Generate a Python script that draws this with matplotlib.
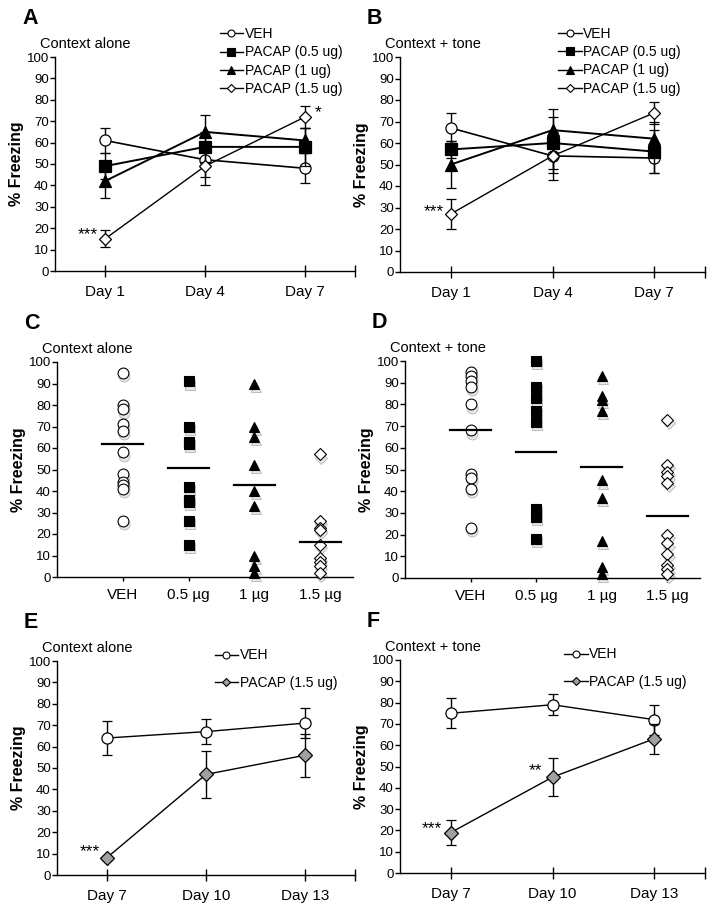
import numpy as np
import matplotlib
matplotlib.use("Agg")
import matplotlib.pyplot as plt

plt.rcParams["font.family"] = ["Liberation Sans", "DejaVu Sans"]

W, H = 714, 909

# ---- data: panels A/B (means, SEM) ----
days_ab = ["Day 1", "Day 4", "Day 7"]
groups = ["VEH", "PACAP (0.5 ug)", "PACAP (1 ug)", "PACAP (1.5 ug)"]
a_mean = [[61, 52, 48], [49, 58, 58], [42, 65, 61], [15, 49, 72]]
a_err = [[6, 8, 7], [6, 7, 9], [8, 8, 6], [4, 9, 5]]
b_mean = [[67, 54, 53], [57, 60, 56], [50, 66, 62], [27, 54, 74]]
b_err = [[7, 8, 7], [4, 12, 10], [11, 10, 8], [7, 11, 5]]

# ---- data: panels C/D (individual animals) ----
doses = ["VEH", "0.5 µg", "1 µg", "1.5 µg"]
c_pts = [
    [95, 80, 78, 71, 68, 58, 48, 44, 43, 41, 26],
    [91, 70, 63, 62, 42, 36, 35, 26, 15],
    [90, 70, 65, 52, 40, 33, 10, 5, 2],
    [57, 26, 23, 22, 15, 9, 7, 5, 2],
]
c_means = [62, 50.5, 43, 16.5]
d_pts = [
    [95, 93, 91, 88, 80, 68, 48, 46, 41, 23],
    [100, 88, 83, 77, 72, 32, 28, 18],
    [93, 84, 82, 77, 45, 37, 17, 5, 2],
    [73, 52, 49, 47, 44, 20, 16, 11, 6, 4, 2],
]
d_means = [68, 58, 51, 28.5]

# ---- data: panels E/F ----
days_ef = ["Day 7", "Day 10", "Day 13"]
groups_ef = ["VEH", "PACAP (1.5 ug)"]
e_mean = [[64, 67, 71], [8, 47, 56]]
e_err = [[8, 6, 7], [1, 11, 10]]
f_mean = [[75, 79, 72], [19, 45, 63]]
f_err = [[7, 5, 7], [6, 9, 7]]

fig = plt.figure(figsize=(W / 100, H / 100), dpi=100)


def box(left, right, top, bottom):
    return [left / W, 1 - bottom / H, (right - left) / W, (bottom - top) / H]


def style_axes(ax, px_w):
    ax.spines["top"].set_visible(False)
    ax.spines["right"].set_visible(False)
    ax.spines["left"].set_linewidth(1.0)
    ax.spines["bottom"].set_linewidth(1.0)
    ax.set_ylim(0, 100)
    ax.set_yticks(range(0, 101, 10))
    ax.tick_params(axis="y", labelsize=9.5, length=3.5, width=1.0, pad=1)
    ax.set_ylabel("% Freezing", fontsize=11.5, fontweight="bold")
    ax.yaxis.set_label_coords(-31 / px_w, 0.5)


def panel_text(ax, letter, title, px_w, px_h):
    # letter and title placed by pixel offsets from the axes' top-left corner
    ax.text(-33 / px_w, 1 + 33 / px_h, letter, transform=ax.transAxes,
            fontsize=15.5, fontweight="bold", va="baseline", ha="left")
    ax.text(-15 / px_w, 1 + 9 / px_h, title, transform=ax.transAxes,
            fontsize=10.5, va="baseline", ha="left")


markers4 = [
    dict(marker="o", mfc="white", ms=8),
    dict(marker="s", mfc="black", ms=8),
    dict(marker="^", mfc="black", ms=8),
    dict(marker="D", mfc="white", ms=6.5),
]
leg_ms = [5, 5.5, 5.5, 4.5]


def line_panel(rect, mean, err, days, mk, legms, letter, title, lw_list):
    ax = fig.add_axes(rect)
    x = np.arange(len(days))
    handles = []
    for i, (m, e) in enumerate(zip(mean, err)):
        ax.errorbar(x, m, yerr=e, color="black", lw=lw_list[i], ecolor="black",
                    elinewidth=1.0, capsize=3.5, capthick=1.0, mec="black",
                    mew=0.9, zorder=3 + i, **mk[i])
        h, = ax.plot([], [], color="black", lw=1.0, marker=mk[i]["marker"],
                     mfc=mk[i]["mfc"], mec="black", mew=0.8, ms=legms[i])
        handles.append(h)
    ax.set_xlim(-0.5, 2.5)
    ax.set_xticks(x)
    ax.set_xticks([2.5], minor=True)
    ax.set_xticklabels(days, fontsize=11)
    ax.tick_params(axis="x", which="both", direction="inout", length=8,
                   width=1.0, pad=6)
    style_axes(ax, rect[2] * W)
    panel_text(ax, letter, title, rect[2] * W, rect[3] * H)
    return ax, handles


leg_kw = dict(frameon=False, fontsize=10, handlelength=1.7, handletextpad=0.1,
              borderaxespad=0, loc="upper left")

# ---- A ----
axA, hA = line_panel(box(55, 355, 57, 271), a_mean, a_err, days_ab,
                     markers4, leg_ms, "A", "Context alone", [1.2, 1.4, 1.4, 1.0])
axA.legend(hA, groups, bbox_to_anchor=(0.53, 1.165), labelspacing=0.3, **leg_kw)
axA.text(-0.07, 17, "***", fontsize=12.5, ha="right", va="center")
axA.text(2.1, 74, "*", fontsize=12.5, ha="left", va="center")

# ---- B ----
axB, hB = line_panel(box(400, 705, 57, 272), b_mean, b_err, days_ab,
                     markers4, leg_ms, "B", "Context + tone", [1.2, 1.4, 1.4, 1.0])
axB.legend(hB, groups, bbox_to_anchor=(0.5, 1.165), labelspacing=0.3, **leg_kw)
axB.text(-0.07, 28, "***", fontsize=12.5, ha="right", va="center")


# ---- C / D ----
def scatter_panel(rect, pts, means, letter, title):
    ax = fig.add_axes(rect)
    for i, vals in enumerate(pts):
        xs = np.full(len(vals), i + 1.0)
        v = np.array(vals, dtype=float)
        mk = markers4[i]
        ms = {"o": 7.8, "s": 7.2, "^": 7.8, "D": 6.2}[mk["marker"]]
        # soft grey shadow under each point
        ax.plot(xs + 0.02, v - 1.5, ls="none", marker=mk["marker"], ms=ms,
                mfc="#e8e8e8", mec="#bdbdbd", mew=0.7, zorder=2, clip_on=False)
        ax.plot(xs, v, ls="none", marker=mk["marker"], ms=ms, mfc=mk["mfc"],
                mec="black", mew=0.8, zorder=3, clip_on=False)
        ax.plot([i + 0.69, i + 1.31], [means[i], means[i]], color="black",
                lw=1.6, zorder=4)
    ax.set_xlim(0, 4.5)
    ax.set_xticks(np.arange(1, 5))
    ax.set_xticklabels(doses, fontsize=11)
    ax.tick_params(axis="x", direction="out", length=3, width=1.0, pad=5)
    style_axes(ax, rect[2] * W)
    panel_text(ax, letter, title, rect[2] * W, rect[3] * H)
    return ax


axC = scatter_panel(box(57, 353, 362, 577), c_pts, c_means, "C", "Context alone")
axD = scatter_panel(box(405, 700, 361, 578), d_pts, d_means, "D", "Context + tone")

# ---- E / F ----
markers2 = [
    dict(marker="o", mfc="white", ms=8),
    dict(marker="D", mfc="#a0a0a0", ms=7.5),
]
axE, hE = line_panel(box(57, 355, 661, 875), e_mean, e_err, days_ef,
                     markers2, [5, 4.5], "E", "Context alone", [1.0, 1.0])
axE.legend(hE, groups_ef, bbox_to_anchor=(0.51, 1.085), labelspacing=0.95, **leg_kw)
axE.text(-0.07, 11, "***", fontsize=12.5, ha="right", va="center")

axF, hF = line_panel(box(400, 705, 660, 873), f_mean, f_err, days_ef,
                     markers2, [5, 4.5], "F", "Context + tone", [1.0, 1.0])
axF.legend(hF, groups_ef, bbox_to_anchor=(0.52, 1.085), labelspacing=0.95, **leg_kw)
axF.text(-0.09, 21, "***", fontsize=12.5, ha="right", va="center")
axF.text(0.9, 48, "**", fontsize=12.5, ha="right", va="center")

fig.savefig("out.png", dpi=100)
